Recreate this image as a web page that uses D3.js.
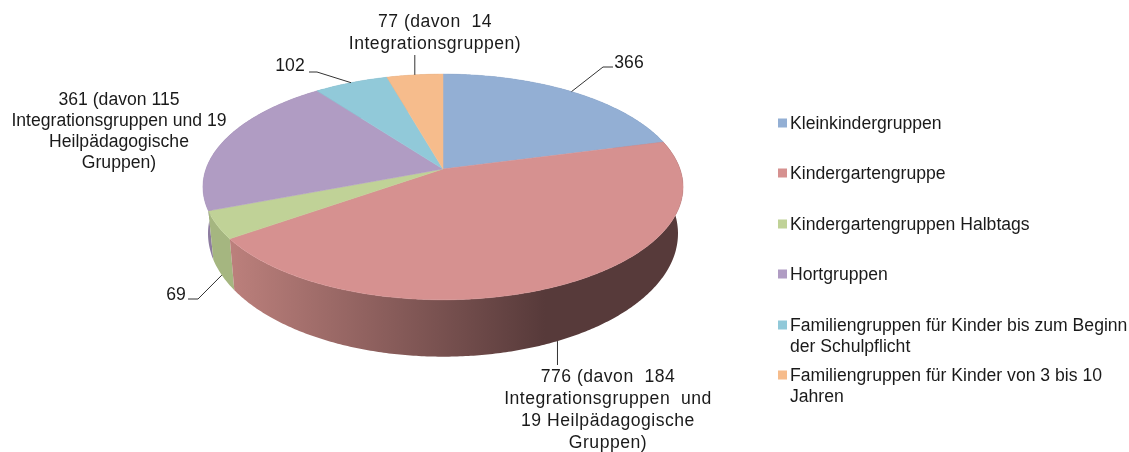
<!DOCTYPE html>
<html>
<head>
<meta charset="utf-8">
<script src="https://cdn.jsdelivr.net/npm/d3@7"></script>
<style>
  body { margin: 0; background: #fff; }
  svg { filter: blur(0.35px); }
  text { font-family: "Liberation Sans", Arial, sans-serif; font-size: 17.6px; fill: #1a1a1a; }
</style>
</head>
<body>
<div id="chart"></div>
<script>
// Data
const categories = [
  "Kleinkindergruppen",
  "Kindergartengruppe",
  "Kindergartengruppen Halbtags",
  "Hortgruppen",
  "Familiengruppen für Kinder bis zum Beginn der Schulpflicht",
  "Familiengruppen für Kinder von 3 bis 10 Jahren"
];
const values = [366, 776, 69, 361, 102, 77];
const colors = ["#93afd4", "#d69190", "#c0d297", "#b09cc3", "#91c9d9", "#f6bc8c"];
const sideColors = ["#6f84a0", "#a56f6d", "#a5b680", "#8d7ca0", "#6f9aa8", "#bd9069"];
const legendLines = [
  ["Kleinkindergruppen"],
  ["Kindergartengruppe"],
  ["Kindergartengruppen Halbtags"],
  ["Hortgruppen"],
  ["Familiengruppen für Kinder bis zum Beginn", "der Schulpflicht"],
  ["Familiengruppen für Kinder von 3 bis 10", "Jahren"]
];
const labelLines = [
  ["366"],
  ["776 (davon  184", "Integrationsgruppen  und", "19 Heilpädagogische", "Gruppen)"],
  ["69"],
  ["361 (davon 115", "Integrationsgruppen und 19", "Heilpädagogische", "Gruppen)"],
  ["102"],
  ["77 (davon  14", "Integrationsgruppen)"]
];

const width = 1129, height = 452;

const svg = d3.select("#chart").append("svg")
  .attr("width", width)
  .attr("height", height)
  .style("display", "block");

// Perspective projection of the disc, top rim and bottom rim
const cx = 443, k = 0.159;
const topRim = { a: 237, b: 110, cy: 169 };
const bottomRim = { a: 232, b: 120, cy: 214 };

function project(rim, angle, r = 1) {
  const u = r * Math.sin(angle), v = -r * Math.cos(angle);
  const w = 1 - k * v;
  return [cx + rim.a * u / w, rim.cy + rim.b * v / w];
}

function rimPoints(rim, a0, a1) {
  const n = Math.max(2, Math.ceil((a1 - a0) / 0.01));
  return d3.range(n + 1).map(i => project(rim, a0 + (a1 - a0) * i / n));
}

const pie = d3.pie().sort(null).value(d => d);
const slices = pie(values);
const line = d3.line();

// Wall gradient on the big slice
const defs = svg.append("defs");
const wallGrad = defs.append("linearGradient")
  .attr("id", "wall-red")
  .attr("gradientUnits", "userSpaceOnUse")
  .attr("x1", 230).attr("x2", 545).attr("y1", 0).attr("y2", 0);
wallGrad.append("stop").attr("offset", 0).attr("stop-color", "#bc807c");
wallGrad.append("stop").attr("offset", 1).attr("stop-color", "#573a3a");

// Walls, back to front
const wallOrder = [5, 4, 0, 3, 2, 1];
svg.append("g").selectAll("path")
  .data(wallOrder.map(i => slices[i]))
  .join("path")
  .attr("d", d => line(rimPoints(topRim, d.startAngle, d.endAngle)
    .concat(rimPoints(bottomRim, d.startAngle, d.endAngle).reverse())) + "Z")
  .attr("fill", d => d.index === 1 ? "url(#wall-red)" : sideColors[d.index]);

// Top faces
svg.append("g").selectAll("path")
  .data(slices)
  .join("path")
  .attr("d", d => line([[cx, topRim.cy]].concat(rimPoints(topRim, d.startAngle, d.endAngle))) + "Z")
  .attr("fill", d => colors[d.index])
  .attr("stroke", d => colors[d.index])
  .attr("stroke-width", 0.5);

// Leader lines: start on the rim at the middle of the slice
const midAngle = d => (d.startAngle + d.endAngle) / 2;
const leaders = [
  { i: 0, rim: topRim, elbow: [603, 67], end: [613, 67] },
  { i: 1, rim: bottomRim, elbow: null, end: [557, 365] },
  { i: 2, rim: bottomRim, elbow: [198, 299], end: [188, 299] },
  { i: 4, rim: topRim, elbow: [317, 72], end: [309, 72] },
  { i: 5, rim: topRim, elbow: null, end: [414, 55] }
];
svg.append("g").selectAll("path")
  .data(leaders)
  .join("path")
  .attr("d", d => {
    const start = project(d.rim, midAngle(slices[d.i]));
    const end = d.elbow ? d.end : [start[0], d.end[1]];
    return line(d.elbow ? [start, d.elbow, end] : [start, end]);
  })
  .attr("fill", "none")
  .attr("stroke", "#333")
  .attr("stroke-width", 1);

// Data labels
const labelPos = [
  { x: 629, y: 62, gap: 21, spacing: 0 },
  { x: 608, y: 375.5, gap: 22, spacing: 0.5 },
  { x: 176, y: 294, gap: 21, spacing: 0 },
  { x: 119, y: 99, gap: 21, spacing: 0 },
  { x: 290, y: 65, gap: 21, spacing: 0 },
  { x: 435, y: 21, gap: 22, spacing: 0.5 }
];
const labels = svg.append("g").selectAll("text")
  .data(labelLines)
  .join("text")
  .attr("text-anchor", "middle")
  .style("letter-spacing", (d, i) => labelPos[i].spacing + "px");
labels.selectAll("tspan")
  .data((d, i) => d.map((t, j) => ({ t, j, p: labelPos[i] })))
  .join("tspan")
  .attr("x", d => d.p.x)
  .attr("y", d => d.p.y + d.j * d.p.gap)
  .attr("dy", "0.35em")
  .style("white-space", "pre")
  .text(d => d.t);

// Legend
const legendY = [123, 173, 224, 274, 325, 375];
const legend = svg.append("g").selectAll("g")
  .data(categories)
  .join("g")
  .attr("transform", (d, i) => `translate(778, ${legendY[i]})`);
legend.append("rect")
  .attr("y", -4.5)
  .attr("width", 9)
  .attr("height", 9)
  .attr("fill", (d, i) => colors[i]);
legend.selectAll("text")
  .data((d, i) => legendLines[i])
  .join("text")
  .attr("x", 12)
  .attr("y", (d, j) => j * 21)
  .attr("dy", "0.35em")
  .text(d => d);
</script>
</body>
</html>
